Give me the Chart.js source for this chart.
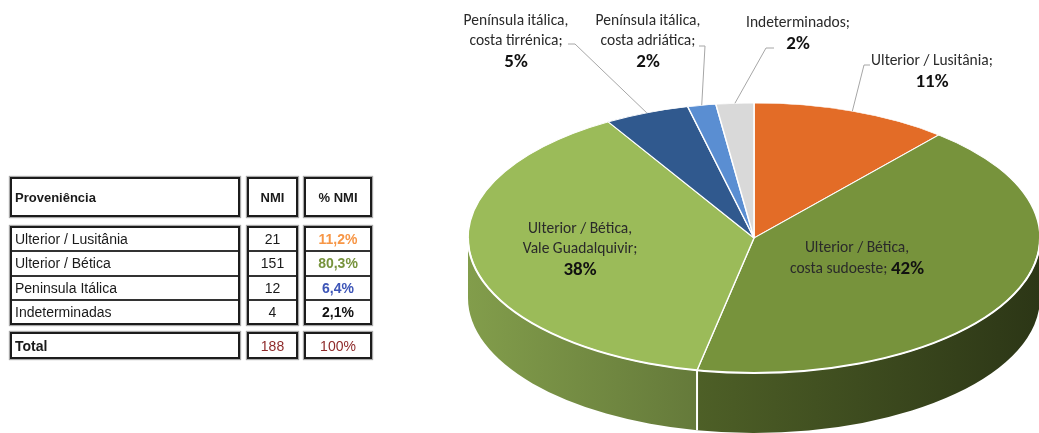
<!DOCTYPE html>
<html lang="pt">
<head>
<meta charset="utf-8">
<title>Proveniência</title>
<script src="https://cdn.jsdelivr.net/npm/chart.js@4.4.1/dist/chart.umd.min.js"></script>
<style>
  html, body { margin: 0; padding: 0; background: #fff; }
  body { width: 1039px; height: 433px; position: relative; overflow: hidden;
         font-family: "Liberation Sans", Arial, sans-serif; color: #1a1a1a; }
  #chart { position: absolute; left: 0; top: 0; }
  .box { position: absolute; box-sizing: border-box; border: 2px solid #1c1c1c;
         box-shadow: 0 0 1px 1px #a8a8a8; background: #fff; display: flex; flex-direction: column; }
  .cell { flex: 1; display: flex; align-items: center; font-size: 14px; white-space: nowrap; }
  .cell + .cell { border-top: 2px solid #333; }
  .hd { font-weight: bold; font-size: 13px; }
  .c1 .cell { padding-left: 3px; }
  .c2 .cell, .c3 .cell { justify-content: center; }
  .c3 .cell { font-weight: bold; }
  .tot { color: #8e2a2a; }
</style>
</head>
<body>
<canvas id="chart" width="1039" height="433" style="width:1039px;height:433px"></canvas>
<div id="tbl"></div>

<script>
/* ========= Datos ========= */
const tableCategories = ["Ulterior / Lusitânia", "Ulterior / Bética", "Peninsula Itálica", "Indeterminadas"];
const tableNMI = [21, 151, 12, 4];
const tablePctColors = ["#f79646", "#77933c", "#3d55b7", "#111111"];

const pieCategories = [
  "Ulterior / Lusitânia",
  "Ulterior / Bética, costa sudoeste",
  "Ulterior / Bética, Vale Guadalquivir",
  "Península itálica, costa tirrénica",
  "Península itálica, costa adriática",
  "Indeterminados",
];
const pieNMI = [21, 79, 72, 9, 3, 4];
const pieColors = ["#e36c27", "#77933c", "#9bbb59", "#30598e", "#5a8ed2", "#d9d9d9"];
const pieLabelLines = [
  ["Ulterior / Lusitânia;"],
  ["Ulterior / Bética,", "costa sudoeste;"],
  ["Ulterior / Bética,", "Vale Guadalquivir;"],
  ["Península itálica,", "costa tirrénica;"],
  ["Península itálica,", "costa adriática;"],
  ["Indeterminados;"],
];

/* ========= Layout de etiquetas ========= */
const labelLayout = [
  { x: 932, y: 61, inline: false, leader: [[870, 65], [864, 65]] },
  { x: 857, y: 248, inline: true },
  { x: 580, y: 229, inline: false },
  { x: 516, y: 21, inline: false, leader: [[568, 44], [575, 44]] },
  { x: 648, y: 21, inline: false, leader: [[699, 46], [705, 46]] },
  { x: 798, y: 23, inline: false, leader: [[774, 48], [766, 48]] },
];

const TILT = 0.472;
const DEPTH = 60;
const LINE_H = 20;
const FONT_TXT = '15.5px Carlito, Lato, sans-serif';
const FONT_PCT = 'bold 19px Carlito, Lato, sans-serif';

/* ========= Helpers ========= */
const $ = (s) => document.querySelector(s);

const total = (arr) => arr.reduce((s, v) => s + v, 0);
const fmtPct1 = (v, t) => (v / t * 100).toFixed(1).replace(".", ",") + "%";

function shade(hex, f) {
  const n = parseInt(hex.slice(1), 16);
  const r = Math.round(((n >> 16) & 255) * f);
  const g = Math.round(((n >> 8) & 255) * f);
  const b = Math.round((n & 255) * f);
  return `rgb(${r},${g},${b})`;
}

/* ========= Tabla ========= */
function renderTable() {
  const t = total(tableNMI);
  const cols = [
    { cls: "c1", x: 10, w: 230, head: "Proveniência", rows: tableCategories, tot: "Total" },
    { cls: "c2", x: 247, w: 51, head: "NMI", rows: tableNMI.map(String), tot: String(t) },
    { cls: "c3", x: 304, w: 68, head: "% NMI", rows: tableNMI.map((v) => fmtPct1(v, t)), tot: "100%" },
  ];
  const wrap = $("#tbl");

  cols.forEach((c) => {
    const h = document.createElement("div");
    h.className = `box ${c.cls}`;
    h.style.cssText = `left:${c.x}px;top:177px;width:${c.w}px;height:40px`;
    h.innerHTML = `<div class="cell hd">${c.head}</div>`;
    wrap.appendChild(h);

    const d = document.createElement("div");
    d.className = `box ${c.cls}`;
    d.style.cssText = `left:${c.x}px;top:226px;width:${c.w}px;height:99px`;
    c.rows.forEach((r, i) => {
      const e = document.createElement("div");
      e.className = "cell";
      e.textContent = r;
      if (c.cls === "c3") e.style.color = tablePctColors[i];
      d.appendChild(e);
    });
    wrap.appendChild(d);

    const f = document.createElement("div");
    f.className = `box ${c.cls}`;
    f.style.cssText = `left:${c.x}px;top:332px;width:${c.w}px;height:27px`;
    const e = document.createElement("div");
    e.className = "cell";
    e.textContent = c.tot;
    if (c.cls === "c1") e.style.fontWeight = "bold";
    else { e.classList.add("tot"); e.style.fontWeight = "normal"; }
    f.appendChild(e);
    wrap.appendChild(f);
  });
}

/* ========= Plugin 3D ========= */
const pie3d = {
  id: "pie3d",
  beforeDatasetsDraw(chart) {
    const ctx = chart.ctx;
    const arcs = chart.getDatasetMeta(0).data;
    const { x: cx, y: cy, outerRadius: r } = arcs[0];
    const ry = r * TILT;

    // paredes laterales (solo la parte frontal)
    arcs.forEach((arc, i) => {
      const a1 = Math.max(arc.startAngle, 0);
      const a2 = Math.min(arc.endAngle, Math.PI);
      if (a2 <= a1) return;
      const g = ctx.createLinearGradient(cx - r, 0, cx + r, 0);
      g.addColorStop(0, shade(pieColors[i], 0.84));
      g.addColorStop(1, shade(pieColors[i], 0.37));
      ctx.beginPath();
      ctx.ellipse(cx, cy, r, ry, 0, a1, a2);
      ctx.ellipse(cx, cy + DEPTH, r, ry, 0, a2, a1, true);
      ctx.closePath();
      ctx.fillStyle = g;
      ctx.fill();
    });

    // cara superior: aplastar el pastel
    ctx.save();
    ctx.translate(cx, cy);
    ctx.scale(1, TILT);
    ctx.translate(-cx, -cy);
  },
  afterDatasetsDraw(chart) {
    const ctx = chart.ctx;
    ctx.restore();

    const arcs = chart.getDatasetMeta(0).data;
    const { x: cx, y: cy, outerRadius: r } = arcs[0];
    const ry = r * TILT;
    const t = total(pieNMI);

    // borde blanco frontal y separaciones
    ctx.save();
    ctx.strokeStyle = "#ffffff";
    ctx.lineWidth = 2;
    ctx.beginPath();
    ctx.ellipse(cx, cy, r, ry, 0, 0, Math.PI);
    ctx.stroke();
    arcs.forEach((arc) => {
      const a = arc.endAngle;
      if (a > 0 && a < Math.PI) {
        const x = cx + r * Math.cos(a);
        const y = cy + ry * Math.sin(a);
        ctx.beginPath();
        ctx.moveTo(x, y);
        ctx.lineTo(x, y + DEPTH);
        ctx.stroke();
      }
    });
    ctx.restore();

    // etiquetas
    ctx.save();
    ctx.textAlign = "center";
    ctx.textBaseline = "middle";
    arcs.forEach((arc, i) => {
      const L = labelLayout[i];
      const pct = Math.round(pieNMI[i] / t * 100) + "%";
      const lines = pieLabelLines[i];

      if (L.leader) {
        const mid = (arc.startAngle + arc.endAngle) / 2;
        const px = cx + r * Math.cos(mid);
        const py = cy + ry * Math.sin(mid);
        ctx.strokeStyle = "#a6a6a6";
        ctx.lineWidth = 1;
        ctx.beginPath();
        ctx.moveTo(L.leader[0][0], L.leader[0][1]);
        ctx.lineTo(L.leader[1][0], L.leader[1][1]);
        ctx.lineTo(px, py);
        ctx.stroke();
      }

      ctx.fillStyle = "#2a2a2a";
      ctx.font = FONT_TXT;
      const last = lines.length - 1;
      lines.forEach((s, k) => {
        if (L.inline && k === last) return;
        ctx.fillText(s, L.x, L.y + k * LINE_H);
      });

      if (L.inline) {
        const s = lines[last] + " ";
        ctx.font = FONT_TXT;
        const w1 = ctx.measureText(s).width;
        ctx.font = FONT_PCT;
        const w2 = ctx.measureText(pct).width;
        const x0 = L.x - (w1 + w2) / 2;
        const y = L.y + last * LINE_H + 1;
        ctx.textAlign = "left";
        ctx.font = FONT_TXT;
        ctx.fillStyle = "#2a2a2a";
        ctx.fillText(s, x0, y);
        ctx.font = FONT_PCT;
        ctx.fillStyle = "#111";
        ctx.fillText(pct, x0 + w1, y);
        ctx.textAlign = "center";
      } else {
        ctx.font = FONT_PCT;
        ctx.fillStyle = "#111";
        ctx.fillText(pct, L.x, L.y + lines.length * LINE_H + 1);
      }
    });
    ctx.restore();
  },
};

/* ========= Gráfico ========= */
function renderChart() {
  const ctx = document.getElementById("chart").getContext("2d");
  new Chart(ctx, {
    type: "pie",
    data: {
      labels: pieCategories,
      datasets: [
        {
          data: pieNMI,
          backgroundColor: pieColors,
          borderColor: "#ffffff",
          borderWidth: 1.5,
          clip: false,
        },
      ],
    },
    options: {
      responsive: false,
      animation: false,
      events: [],
      radius: 286,
      layout: { padding: { left: 469, top: 43, right: 0, bottom: 0 } },
      plugins: {
        legend: { display: false },
        tooltip: { enabled: false },
      },
    },
    plugins: [pie3d],
  });
}

/* ========= Init ========= */
document.addEventListener("DOMContentLoaded", () => {
  renderTable();
  renderChart();
});
</script>
</body>
</html>
